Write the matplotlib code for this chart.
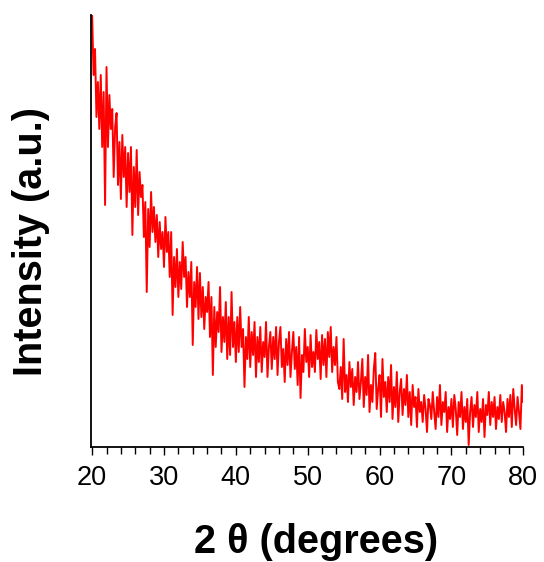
import numpy as np
from matplotlib import pyplot as plt
from matplotlib.ticker import MultipleLocator

# XRD scan, 20 - 80 deg, step 0.2 deg ; intensity in arbitrary units
two_theta_start = 20.0
two_theta_step = 0.2
intensity = [
    432, 372, 398, 330, 365,   # 20
    318, 372, 300, 355, 242,   # 21
    380, 300, 352, 318, 338,   # 22
    270, 320, 334, 262, 305,   # 23
    248, 312, 270, 300, 240,   # 24
    294, 255, 300, 212, 280,   # 25
    240, 297, 232, 275, 250,   # 26
    262, 210, 245, 155, 238,   # 27
    200, 255, 215, 240, 205,   # 28
    232, 190, 225, 198, 215,   # 29
    180, 230, 195, 215, 170,   # 30
    215, 132, 190, 160, 198,   # 31
    150, 185, 158, 205, 170,   # 32
    190, 140, 175, 150, 185,   # 33
    102, 165, 140, 180, 128,   # 34
    174, 130, 160, 118, 150,   # 35
    135, 165, 110, 150, 72,    # 36
    140, 100, 135, 115, 160,   # 37
    95, 130, 105, 145, 88,     # 38
    130, 92, 155, 100, 125,    # 39
    85, 130, 95, 140, 100,     # 40
    118, 60, 110, 88, 130,     # 41
    80, 115, 92, 125, 70,      # 42
    110, 85, 120, 75, 105,     # 43
    90, 125, 70, 100, 115,     # 44
    78, 110, 88, 120, 72,      # 45
    105, 120, 80, 98, 65,      # 46
    108, 82, 115, 70, 95,      # 47
    115, 78, 100, 62, 110,     # 48
    49, 92, 75, 118, 85,       # 49
    100, 70, 112, 80, 95,      # 50
    75, 117, 88, 105, 68,      # 51
    112, 82, 108, 70, 115,     # 52
    90, 120, 75, 100, 82,      # 53
    110, 65, 58, 80, 48,       # 54
    108, 55, 72, 45, 85,       # 55
    60, 78, 42, 70, 55,        # 56
    85, 48, 65, 88, 40,        # 57
    70, 52, 92, 35, 62,        # 58
    45, 78, 94, 38, 58,        # 59
    72, 30, 88, 50, 65,        # 60
    35, 70, 45, 82, 28,        # 61
    60, 40, 75, 25, 55,        # 62
    68, 32, 58, 42, 72,        # 63
    30, 55, 22, 62, 40,        # 64
    50, 20, 58, 35, 45,        # 65
    25, 52, 38, 15, 48,        # 66
    42, 28, 55, 35, 18,        # 67
    50, 30, 62, 22, 45,        # 68
    35, 55, 15, 40, 28,        # 69
    48, 20, 52, 38, 12,        # 70
    45, 30, 55, 18, 40,        # 71
    25, 48, 2, 35, 50,         # 72
    20, 42, 30, 55, 15,        # 73
    38, 25, 48, 10, 42,        # 74
    32, 55, 22, 45, 30,        # 75
    50, 18, 40, 28, 52,        # 76
    25, 45, 35, 15, 48,        # 77
    30, 52, 20, 58, 38,        # 78
    22, 50, 35, 18, 62,        # 79
    45,                        # 80
]
two_theta = two_theta_start + two_theta_step * np.arange(len(intensity))

plt.rcParams['font.family'] = ['Liberation Sans', 'DejaVu Sans']

fig = plt.figure(figsize=(5.44, 5.62), dpi=100)
ax = fig.add_axes([90.7 / 544, 115 / 562, 432.6 / 544, 432 / 562])
ax.plot(two_theta, intensity, color='#ff0000', lw=1.4)

ax.set_xlim(19.8, 80.0)
ax.set_ylim(0, 432)
ax.xaxis.set_major_locator(MultipleLocator(10))
ax.xaxis.set_minor_locator(MultipleLocator(2))
ax.tick_params(axis='x', which='major', direction='out', length=6, width=1, labelsize=19.5, pad=7)
ax.tick_params(axis='x', which='minor', direction='out', length=5, width=1)
ax.set_yticks([])
for s in ['top', 'right']:
    ax.spines[s].set_visible(False)
for s in ['left', 'bottom']:
    ax.spines[s].set_linewidth(1.3)

fig.text(316 / 544, 9 / 562, '2 θ (degrees)', ha='center', va='baseline',
         fontsize=28.5, fontweight='bold')
fig.text(42 / 544, 1 - 241.5 / 562, 'Intensity (a.u.)', rotation=90, rotation_mode='anchor',
         ha='center', va='baseline', fontsize=28.5, fontweight='bold')

fig.savefig('out.png', dpi=100)
